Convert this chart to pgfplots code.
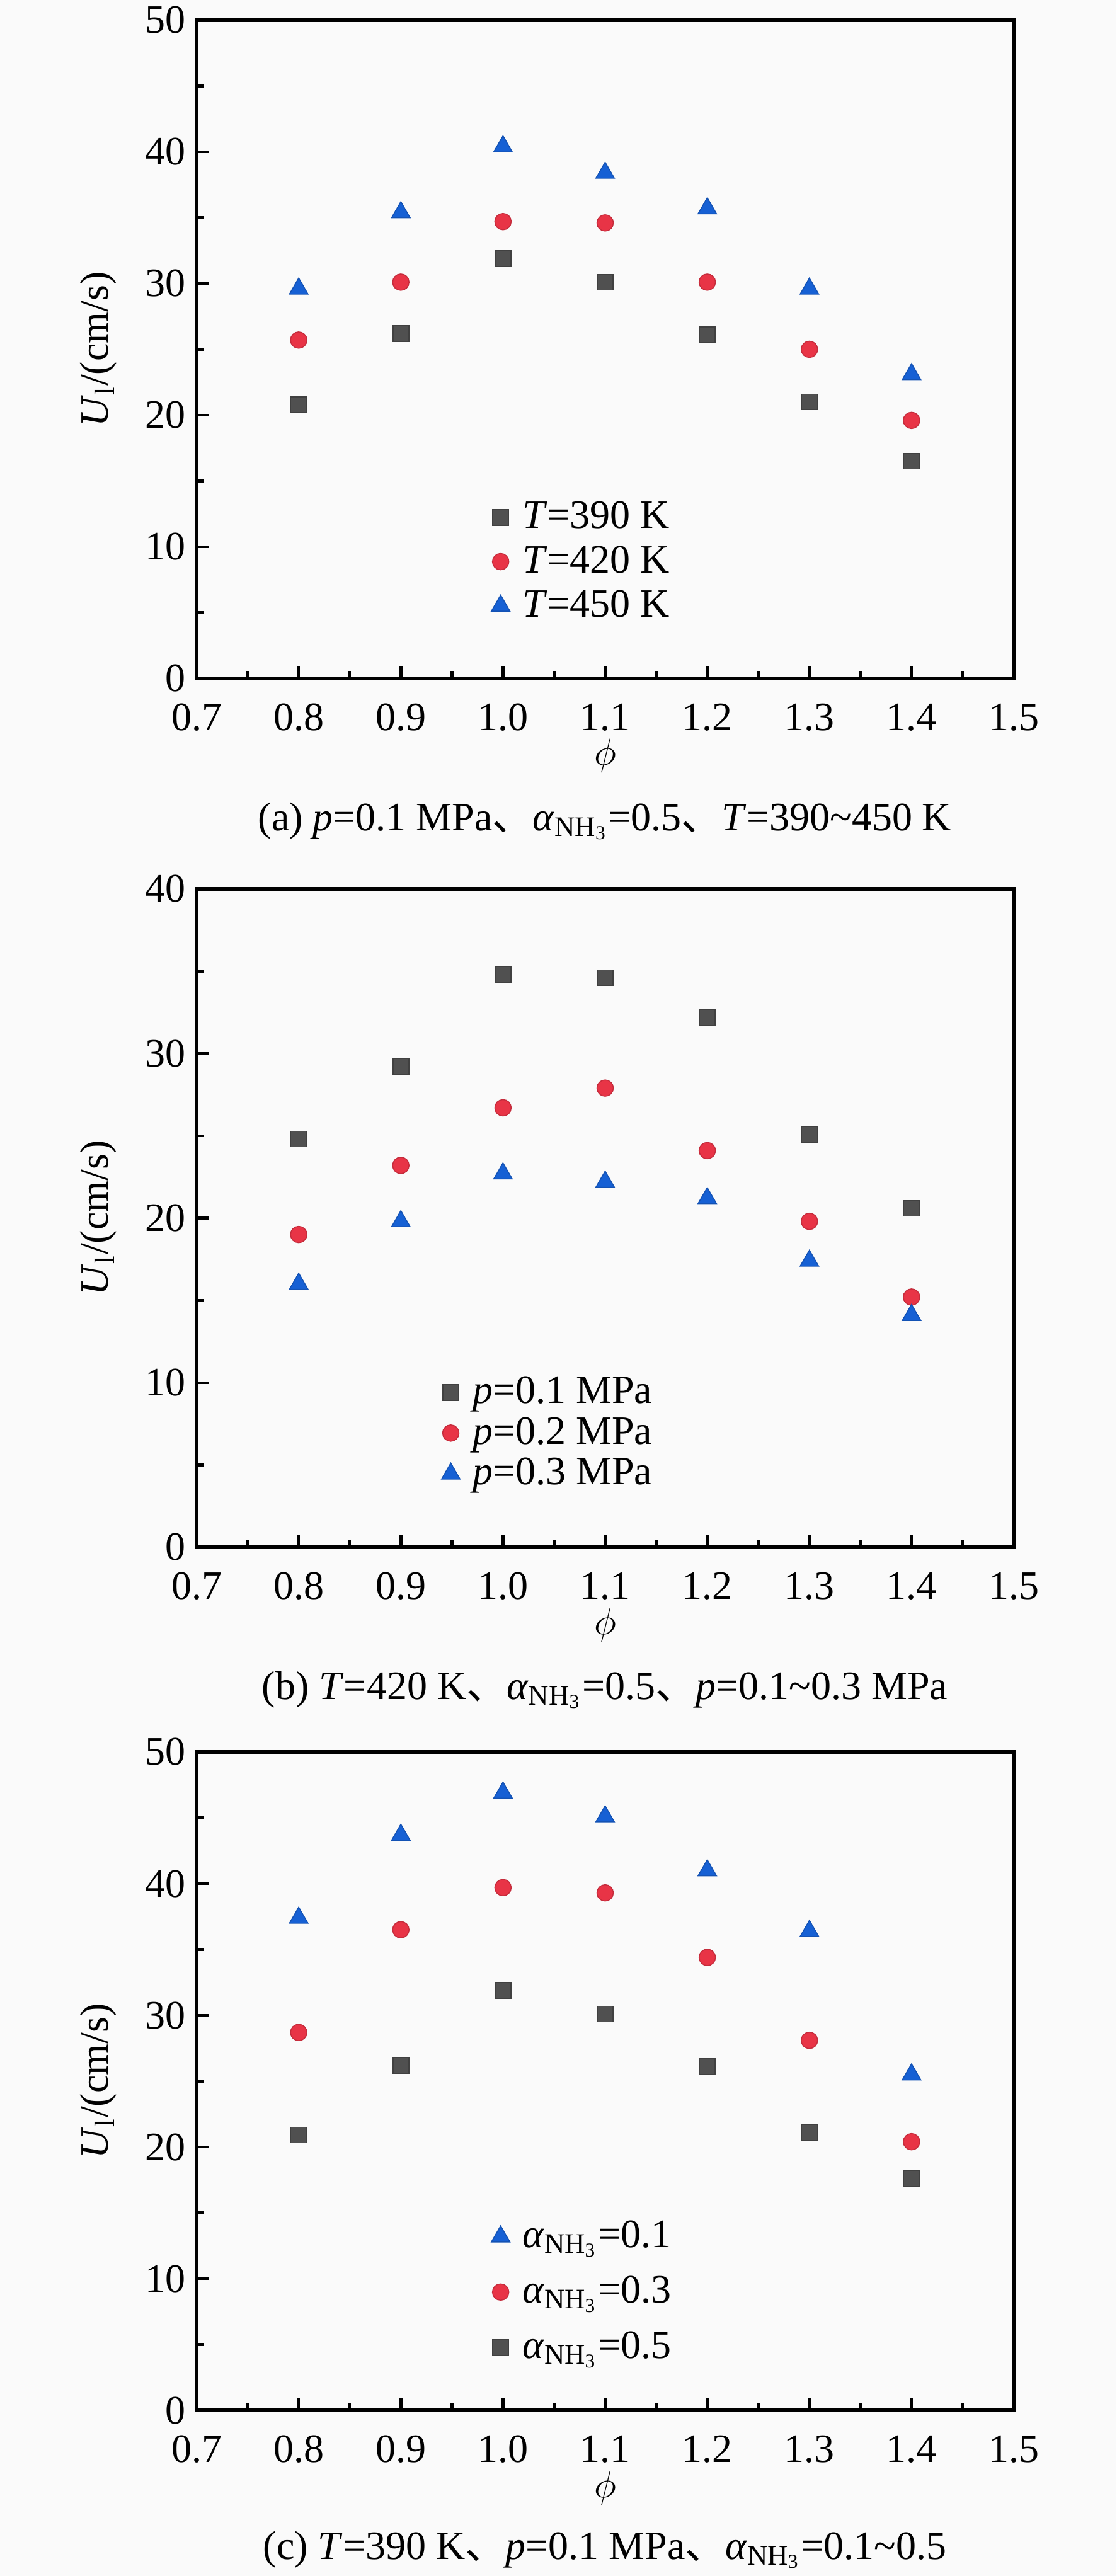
\documentclass[border=0pt]{standalone}
\usepackage{fontspec}
\setmainfont{Liberation Serif}
\newfontfamily\cjk{Noto Sans CJK SC}
\usepackage{pgfplots}
\pgfplotsset{compat=1.18}
\definecolor{cgray}{RGB}{80,80,80}
\definecolor{cred}{RGB}{232,52,70}
\definecolor{cblue}{RGB}{22,96,212}
\definecolor{bg}{RGB}{250,250,250}
\newcommand{\fs}{\fontsize{12.8}{15}\selectfont}
\pgfplotsset{
 myaxis/.style={
  scale only axis, width=259.4pt, height=209pt,
  xmin=0.7, xmax=1.5, ymin=0,
  xtick={0.7,0.8,0.9,1.0,1.1,1.2,1.3,1.4,1.5},
  minor x tick num=1, minor y tick num=1,
  tick align=inside, xtick pos=bottom, ytick pos=left,
  major tick length=4pt, minor tick length=2.4pt,
  major tick style={black, line width=0.9pt},
  minor tick style={black, line width=0.9pt},
  axis line style={line width=1.1pt},
  tick label style={font=\fs},
  x tick label style={yshift=-4.5pt, /pgf/number format/.cd, fixed, fixed zerofill, precision=1, assume math mode=true},
  y tick label style={/pgf/number format/assume math mode=true},
  xlabel={$\phi$}, ylabel={\textit{U}\textsubscript{l}/(cm/s)},
  every axis x label/.style={at={(rel axis cs:0.5,0)}, anchor=center, yshift=-24.6pt, font=\fs},
  every axis y label/.style={at={(rel axis cs:0,0.5)}, xshift=-31.2pt, rotate=90, anchor=center, font=\fs},
  legend style={draw=none, fill=none, font=\fs, anchor=north west, inner sep=0pt, nodes={inner ysep=2pt, inner xsep=4pt}},
  legend cell align=left,
  legend image code/.code={\draw[##1] plot coordinates {(0pt,0pt)};},
  clip=false,
 },
 sq/.style={only marks, mark=square*, mark size=2.5pt, mark options={fill=cgray, draw=cgray!80!black, line width=0.3pt}},
 ci/.style={only marks, mark=*, mark size=2.6pt, mark options={fill=cred, draw=cred!85!black, line width=0.3pt}},
 tr/.style={only marks, mark=triangle*, mark size=3.4pt, mark options={fill=cblue, draw=cblue!85!black, line width=0.3pt}},
}
\begin{document}
\begin{tikzpicture}
\fill[bg] (0,0) rectangle (354.4pt,-817.8pt);
\useasboundingbox (0,0) rectangle (354.4pt,-817.8pt);
% (a)
\begin{axis}[myaxis, at={(62.4pt,-6.4pt)}, anchor=north west, ymax=50, ytick={0,10,20,30,40,50},
  legend style={at={(0.36,0.279)}}]
\addplot[sq] coordinates {(0.8,20.8) (0.9,26.2) (1.0,31.9) (1.1,30.1) (1.2,26.1) (1.3,21.0) (1.4,16.5)};
\addlegendentry{\textit{T}=390 K}
\addplot[ci] coordinates {(0.8,25.7) (0.9,30.1) (1.0,34.7) (1.1,34.6) (1.2,30.1) (1.3,25.0) (1.4,19.6)};
\addlegendentry{\textit{T}=420 K}
\addplot[tr] coordinates {(0.8,29.6) (0.9,35.4) (1.0,40.4) (1.1,38.4) (1.2,35.7) (1.3,29.6) (1.4,23.1)};
\addlegendentry{\textit{T}=450 K}
\end{axis}
% (b)
\begin{axis}[myaxis, at={(62.4pt,-282.2pt)}, anchor=north west, ymax=40, ytick={0,10,20,30,40},
  legend style={at={(0.299,0.267)}, nodes={inner ysep=1.45pt}}]
\addplot[sq] coordinates {(0.8,24.8) (0.9,29.2) (1.0,34.8) (1.1,34.6) (1.2,32.2) (1.3,25.1) (1.4,20.6)};
\addlegendentry{\textit{p}=0.1 MPa}
\addplot[ci] coordinates {(0.8,19.0) (0.9,23.2) (1.0,26.7) (1.1,27.9) (1.2,24.1) (1.3,19.8) (1.4,15.2)};
\addlegendentry{\textit{p}=0.2 MPa}
\addplot[tr] coordinates {(0.8,16.0) (0.9,19.8) (1.0,22.7) (1.1,22.2) (1.2,21.2) (1.3,17.4) (1.4,14.1)};
\addlegendentry{\textit{p}=0.3 MPa}
\end{axis}
% (c)
\begin{axis}[myaxis, at={(62.4pt,-556.2pt)}, anchor=north west, ymax=50, ytick={0,10,20,30,40,50},
  legend style={at={(0.36,0.307)}, nodes={inner ysep=3.8pt}}]
\addplot[tr] coordinates {(0.8,37.4) (0.9,43.7) (1.0,46.9) (1.1,45.1) (1.2,41.0) (1.3,36.4) (1.4,25.5)};
\addlegendentry{\textit{α}\textsubscript{NH\textsubscript{3}}=0.1}
\addplot[ci] coordinates {(0.8,28.7) (0.9,36.5) (1.0,39.7) (1.1,39.3) (1.2,34.4) (1.3,28.1) (1.4,20.4)};
\addlegendentry{\textit{α}\textsubscript{NH\textsubscript{3}}=0.3}
\addplot[sq] coordinates {(0.8,20.9) (0.9,26.2) (1.0,31.9) (1.1,30.1) (1.2,26.1) (1.3,21.1) (1.4,17.6)};
\addlegendentry{\textit{α}\textsubscript{NH\textsubscript{3}}=0.5}
\end{axis}
\node[anchor=base, font=\fs] at (192pt,-263.6pt) {(a) \textit{p}=0.1 MPa{\cjk 、}\textit{α}\textsubscript{NH\textsubscript{3}}=0.5{\cjk 、}\textit{T}=390\textasciitilde 450 K};
\node[anchor=base, font=\fs] at (192pt,-539.4pt) {(b) \textit{T}=420 K{\cjk 、}\textit{α}\textsubscript{NH\textsubscript{3}}=0.5{\cjk 、}\textit{p}=0.1\textasciitilde 0.3 MPa};
\node[anchor=base, font=\fs] at (192pt,-812.4pt) {(c) \textit{T}=390 K{\cjk 、}\textit{p}=0.1 MPa{\cjk 、}\textit{α}\textsubscript{NH\textsubscript{3}}=0.1\textasciitilde 0.5};
\end{tikzpicture}
\end{document}
